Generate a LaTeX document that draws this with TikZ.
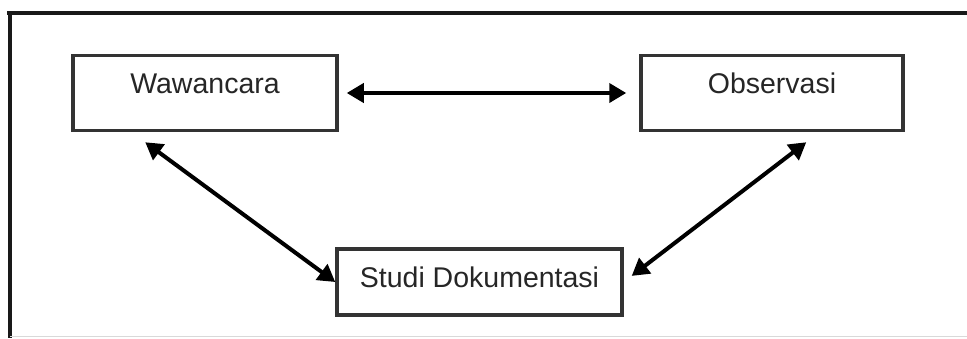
\documentclass[tikz,border=0pt]{standalone}
\usepackage{fontspec}
\setmainfont{Liberation Sans}
\usetikzlibrary{arrows.meta,calc}
\tikzset{
  box/.style={draw=black!80, line width=3.5pt, inner sep=0pt, fill=white,
    font=\fontsize{28.5}{30}\selectfont, text=black!85},
  link/.style={line width=4pt, black,
    {Triangle[length=17pt,width=19pt]}-{Triangle[length=17pt,width=19pt]}},
  frameline/.style={line width=4pt, black!90}
}
\begin{document}
\begin{tikzpicture}[x=1pt,y=-1pt]
  \useasboundingbox (0,0) rectangle (967,338);
  % outer frame: top and left rules, faint bottom rule
  \draw[frameline] (7,13) -- (967,13);
  \draw[frameline] (10,13) -- (10,338);
  \draw[black!15, line width=1pt] (10,336.5) -- (967,336.5);
  % the three boxes
  \node[box, minimum width=264pt, text height=38pt, text depth=37pt] (wa) at (205,93) {Wawancara};
  \node[box, minimum width=262pt, text height=38pt, text depth=37pt] (ob) at (772,93) {Observasi};
  \node[box, minimum width=285pt, text height=38pt, text depth=28pt] (sd) at (479.5,282) {Studi Dokumentasi};
  % connectors
  \draw[link, shorten <=8pt, shorten >=13pt] (wa) -- (ob);
  \draw[link] ($(wa.south west)+(74,10)$) -- (sd.west);
  \draw[link, shorten >=10pt] ($(ob.south west)+(167,10)$) -- (sd.east);
\end{tikzpicture}
\end{document}
